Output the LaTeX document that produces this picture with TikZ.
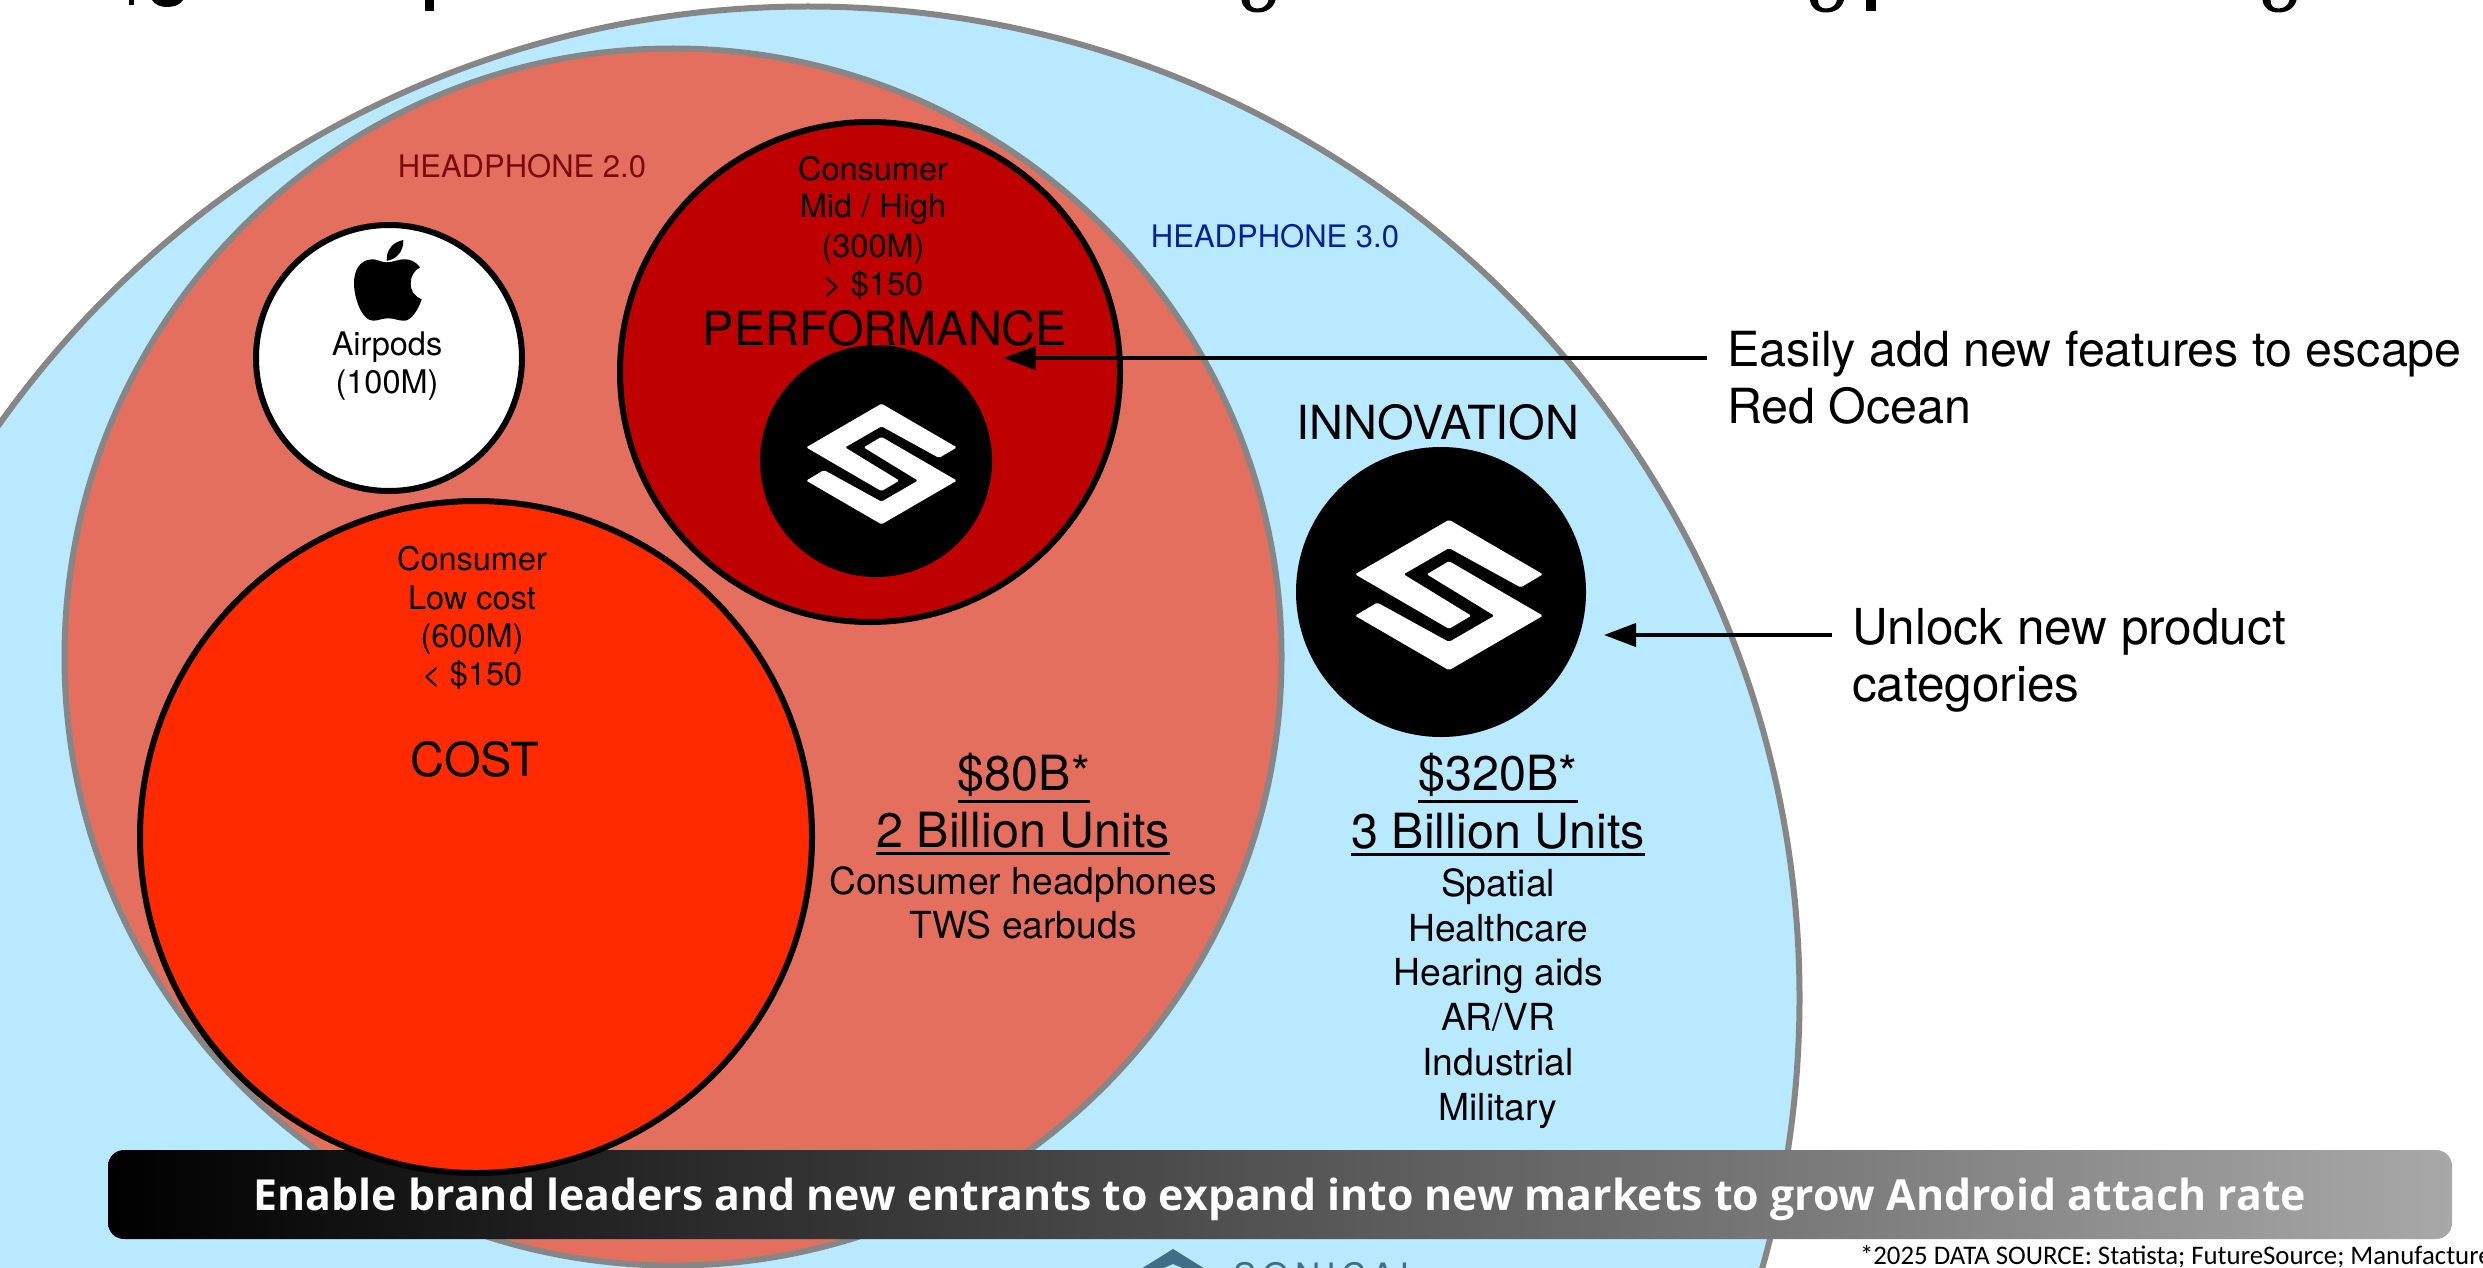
\documentclass[tikz,border=0pt]{standalone}
\usepackage{fontspec}
\setmainfont{TeX Gyre Heros}
\newfontfamily\bannerfont{Open Sans}
\newfontfamily\notefont{Carlito}
\newfontfamily\brandfont[LetterSpace=16]{TeX Gyre Heros}
\usetikzlibrary{arrows.meta}
\definecolor{skyc}{HTML}{B8E9FF}
\definecolor{salmonc}{HTML}{E56F5F}
\definecolor{darkredc}{HTML}{BE0000}
\definecolor{redc}{HTML}{FF2A00}
\definecolor{rimc}{HTML}{868686}
\definecolor{lab2c}{HTML}{7A0A0A}
\definecolor{lab3c}{HTML}{00209F}
\definecolor{brandc}{HTML}{3E6F87}
\definecolor{bannerend}{HTML}{A8A8A8}
\newcommand{\ulin}[1]{\vtop{\hbox{#1}\kern4pt\hrule height 2.8pt}}
\tikzset{
  disc/.style={circle,inner sep=0pt,outer sep=0pt},
  rim/.style={disc,draw=rimc,line width=6pt},
  blk/.style={disc,draw=black,line width=6pt},
  lbl/.style={anchor=base,inner sep=0pt,outer sep=0pt,text=black},
  small/.style={lbl,font=\fontsize{32.5}{38}\selectfont},
  mid/.style={lbl,font=\fontsize{37.3}{46}\selectfont},
  big/.style={lbl,font=\fontsize{47}{54}\selectfont},
  huge/.style={lbl,font=\fontsize{48.5}{56}\selectfont},
  callout/.style={anchor=west,align=left,inner ysep=0pt,inner xsep=20pt,outer sep=0pt},
  pointer/.style={line width=4pt,-{Triangle[length=32pt,width=23pt]}},
  slogo/.pic={
    \fill[white,rounded corners=1.5pt] (0,-74.5)--(93,-20.5)--(71,-7.5)--(0,-46.5)--(-45,-20.5)--(22,20.5)--(0,33.5)--(-93,-20.5)--cycle;
    \fill[white,rounded corners=1.5pt] (0,-33.5)--(93,20.5)--(0,74.5)--(-93,20.5)--(-71,7.5)--(0,46.5)--(45,20.5)--(-22,-20.5)--cycle;
  },
  hook/.pic={
    \fill[black] (-17,0)--(-9,0) .. controls (-9,6) and (-6,8.5) .. (-1,8.5) .. controls (5,8.5) and (9,5) .. (10,0)--(17,0) .. controls (15,8) and (8,12.5) .. (-1,12.5) .. controls (-10,12.5) and (-16,8) .. (-17,0)--cycle;
  }
}
\begin{document}
\begin{tikzpicture}[x=1pt,y=-1pt]
\clip (0,0) rectangle (2483,1268);
\fill[white] (0,0) rectangle (2483,1268);
% nested market circles
\node[rim,fill=skyc,minimum size=1983pt] (outer) at (808,998) {};
\node[rim,fill=salmonc,minimum size=1217pt] (inner) at (673,657) {};
% banner (the cost circle overlaps it)
\node[inner sep=0pt,outer sep=0pt,minimum width=2344pt,minimum height=89pt,rounded corners=16pt,left color=black,right color=bannerend] (banner) at (1280,1194.5) {};
\node[lbl,text=white,font=\bannerfont\bfseries\fontsize{42.8}{50}\selectfont] (bannertext) at (1280,1210) {Enable brand leaders and new entrants to expand into new markets to grow Android attach rate};
\node[blk,fill=redc,minimum size=672pt] (cost) at (476,837) {};
\node[blk,fill=darkredc,minimum size=500pt] (perf) at (870,372) {};
\node[disc,fill=black,minimum size=232pt] (perflogo) at (876,461) {};
\node[blk,fill=white,minimum size=266pt] (pods) at (389,358) {};
\node[disc,fill=black,minimum size=290pt] (innov) at (1441,592) {};
\pic[scale=.81] at (881.5,464) {slogo};
\pic[scale=1.01] at (1449,595) {slogo};
% apple mark
\fill[black] (386.7,262.3) .. controls (380,262) and (377,259) .. (371.7,259.3) .. controls (360,260) and (354,270) .. (354,283) .. controls (354,298) and (362,321) .. (373.3,320.7) .. controls (379,320.5) and (382,318.3) .. (388.3,318.3) .. controls (395,318.3) and (398,321) .. (405,320.7) .. controls (412,320) and (419,308) .. (421.7,299.3) .. controls (414,296) and (410.7,291) .. (410.7,283.3) .. controls (410.7,276) and (414,271) .. (420,267.3) .. controls (415,261) and (410,259.3) .. (405,259.3) .. controls (397,259.3) and (393,262.5) .. (386.7,262.3) -- cycle;
\fill[black] (403.3,240) .. controls (393,242) and (386,250) .. (386.7,260.7) .. controls (396,260) and (404,251) .. (403.3,240) -- cycle;
% labels
\node[lbl,font=\fontsize{31}{37}\selectfont,text=lab2c] (h2) at (522,178) {HEADPHONE 2.0};
\node[lbl,font=\fontsize{31}{37}\selectfont,text=lab3c] (h3) at (1275,247) {HEADPHONE 3.0};
\node[small] (a1) at (387,355) {Airpods};
\node[small] (a2) at (387,393) {(100M)};
\node[small] (p1) at (873,181) {Consumer};
\node[small] (p2) at (873,218) {Mid / High};
\node[small] (p3) at (873,257) {(300M)};
\node[small] (p4) at (873,295) {> \$150};
\node[big] (perft) at (885,345) {PERFORMANCE};
\node[small] (c1) at (472,570) {Consumer};
\node[small] (c2) at (472,609) {Low cost};
\node[small] (c3) at (472,647) {(600M)};
\node[small] (c4) at (472,685) {< \$150};
\node[big] (costt) at (475,776) {COST};
\node[big] (innt) at (1438,439) {INNOVATION};
\node[huge] (m1) at (1024,790) {\ulin{\$80B*}};
\node[huge] (m2) at (1023,847) {\ulin{2 Billion Units}};
\node[mid] (m3) at (1023,894) {Consumer headphones};
\node[mid] (m4) at (1023,938) {TWS earbuds};
\node[huge] (n1) at (1498,790) {\ulin{\$320B*}};
\node[huge] (n2) at (1498,848) {\ulin{3 Billion Units}};
\node[mid] (n3) at (1498,896) {Spatial};
\node[mid] (n4) at (1498,941) {Healthcare};
\node[mid] (n5) at (1498,985) {Hearing aids};
\node[mid] (n6) at (1498,1030) {AR/VR};
\node[mid] (n7) at (1498,1075) {Industrial};
\node[mid] (n8) at (1498,1120) {Military};
% callouts
\coordinate (tip1) at (1003.5,358);
\coordinate (tip2) at (1604,635);
\node[callout,font=\fontsize{48.4}{57}\selectfont] (say1) at (1707,378) {Easily add new features to escape\\Red Ocean};
\node[callout,font=\fontsize{49.5}{57}\selectfont] (say2) at (1832,660) {Unlock new product\\categories};
\draw[pointer] (say1.west |- tip1) -- (tip1);
\draw[pointer] (say2.west |- tip2) -- (tip2);
% footnote
\node[anchor=west,inner sep=0pt,outer sep=0pt,font=\notefont\fontsize{26.8}{31}\selectfont] (note) at (1860,1257) {*2025 DATA SOURCE: Statista; FutureSource; Manufacture};
% cropped brand mark
\fill[brandc] (1173,1249) -- (1210,1272) -- (1192,1272) -- (1173,1264) -- (1154,1272) -- (1136,1272) -- cycle;
\node[lbl,font=\brandfont\fontsize{35}{40}\selectfont,text=brandc] (brand) at (1327,1288) {SONICAL};
% cropped title descenders
\fill[black] (129,0) rectangle (134,5);
\fill[black] (152,0) .. controls (155,5) and (161,7) .. (167,7) .. controls (174,7) and (180,5) .. (183,0) -- cycle;
\fill[black] (425,0) rectangle (434,11);
\pic at (1258.5,0) {hook};
\pic at (1827,0) {hook};
\fill[black] (1866,0) rectangle (1876,11);
\pic at (2279.5,0) {hook};
\end{tikzpicture}
\end{document}
